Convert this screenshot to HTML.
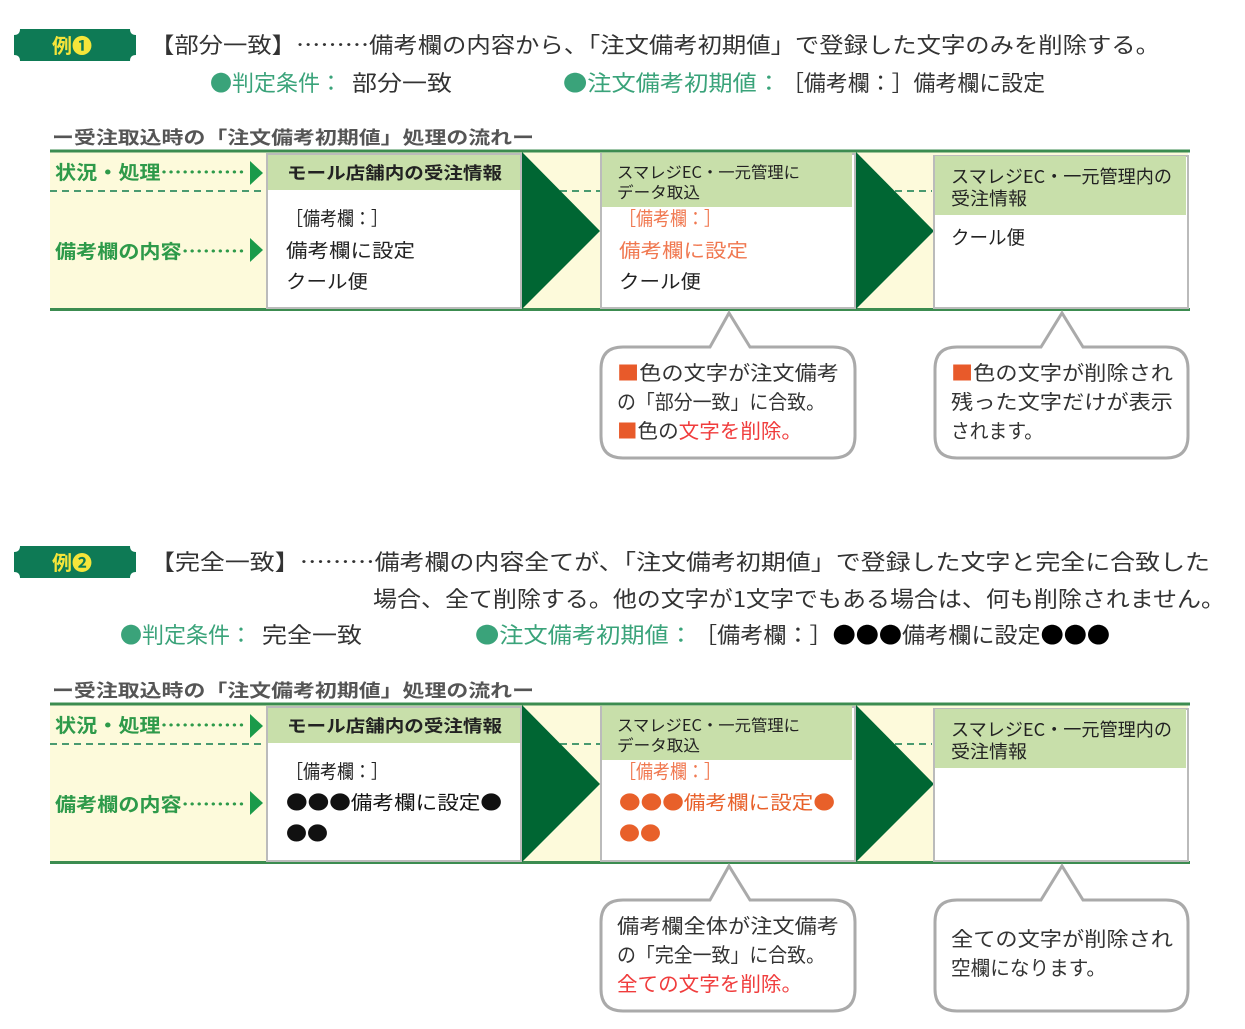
<!DOCTYPE html>
<html><head><meta charset="utf-8"><style>
html,body{margin:0;padding:0;background:#fff;width:1245px;height:1029px;overflow:hidden}
svg{display:block;font-family:"Noto Sans CJK JP","Liberation Sans",sans-serif}
</style></head><body>
<svg width="1245" height="1029" viewBox="0 0 1245 1029" xmlns="http://www.w3.org/2000/svg">
<defs>
<g id="frame">
  <rect x="50" y="152" width="1138" height="157" fill="#fdfadb"/>
  <line x1="50" y1="151" x2="1190" y2="151" stroke="#3c8c50" stroke-width="3"/>
  <line x1="50" y1="309.5" x2="1190" y2="309.5" stroke="#3c8c50" stroke-width="3"/>
  <line x1="50" y1="191" x2="265" y2="191" stroke="#4a9a70" stroke-width="2" stroke-dasharray="7,5"/>
  <line x1="560" y1="191" x2="600" y2="191" stroke="#4a9a70" stroke-width="2" stroke-dasharray="7,5"/>
  <line x1="895" y1="191" x2="932" y2="191" stroke="#4a9a70" stroke-width="2" stroke-dasharray="7,5"/>
  <text x="55" y="179" font-size="19" font-weight="bold" fill="#2e9a4a" textLength="190" lengthAdjust="spacingAndGlyphs">状況・処理…………</text>
  <polygon points="250,161 263,173 250,185" fill="#1a9a4a"/>
  <text x="55" y="258" font-size="19" font-weight="bold" fill="#2e9a4a" textLength="190" lengthAdjust="spacingAndGlyphs">備考欄の内容………</text>
  <polygon points="250,238 263,250 250,262" fill="#1a9a4a"/>
  <rect x="267" y="154" width="254" height="154" fill="#fff" stroke="#bbb" stroke-width="2"/>
  <rect x="268" y="155" width="252" height="35" fill="#c8dfaa"/>
  <text x="287" y="179" font-size="17" font-weight="bold" fill="#222" textLength="215" lengthAdjust="spacingAndGlyphs">モール店舗内の受注情報</text>
  <polygon points="522,152 600,231 522,309" fill="#006633"/>
  <rect x="601" y="154" width="254" height="154" fill="#fff" stroke="#bbb" stroke-width="2"/>
  <rect x="602" y="153" width="250" height="54" fill="#c8dfaa"/>
  <text x="617" y="178" font-size="16" fill="#222" textLength="183" lengthAdjust="spacingAndGlyphs">スマレジEC・一元管理に</text>
  <text x="617" y="198" font-size="16" fill="#222" textLength="83" lengthAdjust="spacingAndGlyphs">データ取込</text>
  <polygon points="856,152 934,231 856,309" fill="#006633"/>
  <rect x="934" y="156" width="254" height="152" fill="#fff" stroke="#bbb" stroke-width="2"/>
  <rect x="935" y="156" width="251" height="59" fill="#c8dfaa"/>
  <text x="951" y="183" font-size="18" fill="#222" textLength="221" lengthAdjust="spacingAndGlyphs">スマレジEC・一元管理内の</text>
  <text x="951" y="205" font-size="18" fill="#222" textLength="76" lengthAdjust="spacingAndGlyphs">受注情報</text>
  <path d="M623,347 H710 L729,313 L750,347 H833 Q855,347 855,369 V436 Q855,458 833,458 H623 Q601,458 601,436 V369 Q601,347 623,347 Z" fill="#fff" stroke="#aaa" stroke-width="3"/>
  <path d="M957,347 H1041 L1062,313 L1083,347 H1166 Q1188,347 1188,369 V436 Q1188,458 1166,458 H957 Q935,458 935,436 V369 Q935,347 957,347 Z" fill="#fff" stroke="#aaa" stroke-width="3"/>
</g>
</defs>

<!-- Example 1 -->
<path d="M20,29 H130 Q130,35 136,35 V55 Q130,55 130,61 H20 Q20,55 14,55 V35 Q20,35 20,29 Z" fill="#0e7a55"/>
<text x="52" y="53" font-size="20" font-weight="bold" fill="#f5e53a">例❶</text>
<text x="150" y="53" font-size="22" fill="#333" textLength="1010" lengthAdjust="spacingAndGlyphs">【部分一致】………備考欄の内容から、「注文備考初期値」で登録した文字のみを削除する。</text>
<text x="210" y="91" font-size="22" fill="#3aa37a" textLength="132" lengthAdjust="spacingAndGlyphs">●判定条件：</text>
<text x="352" y="91" font-size="22" fill="#333" textLength="100" lengthAdjust="spacingAndGlyphs">部分一致</text>
<text x="563" y="91" font-size="22" fill="#3aa37a" textLength="218" lengthAdjust="spacingAndGlyphs">●注文備考初期値：</text>
<text x="782" y="91" font-size="22" fill="#333" textLength="263" lengthAdjust="spacingAndGlyphs">［備考欄：］備考欄に設定</text>
<text x="52" y="144" font-size="18" font-weight="bold" fill="#555" textLength="482" lengthAdjust="spacingAndGlyphs">ー受注取込時の「注文備考初期値」処理の流れー</text>
<use href="#frame"/>
<text x="286" y="225" font-size="19" fill="#222" textLength="102" lengthAdjust="spacingAndGlyphs">［備考欄：］</text>
<text x="286" y="257" font-size="19" fill="#222" textLength="129" lengthAdjust="spacingAndGlyphs">備考欄に設定</text>
<text x="286" y="288" font-size="19" fill="#222" textLength="82" lengthAdjust="spacingAndGlyphs">クール便</text>
<text x="619" y="225" font-size="19" fill="#f07850" textLength="102" lengthAdjust="spacingAndGlyphs">［備考欄：］</text>
<text x="619" y="257" font-size="19" fill="#f07850" textLength="129" lengthAdjust="spacingAndGlyphs">備考欄に設定</text>
<text x="619" y="288" font-size="19" fill="#222" textLength="82" lengthAdjust="spacingAndGlyphs">クール便</text>
<text x="951" y="244" font-size="19" fill="#222" textLength="74" lengthAdjust="spacingAndGlyphs">クール便</text>
<text x="617" y="380" font-size="20" fill="#333" textLength="222" lengthAdjust="spacingAndGlyphs"><tspan fill="#e85a2a">■</tspan>色の文字が注文備考</text>
<text x="617" y="409" font-size="20" fill="#333" textLength="208" lengthAdjust="spacingAndGlyphs">の「部分一致」に合致。</text>
<text x="617" y="438" font-size="20" fill="#333" textLength="185" lengthAdjust="spacingAndGlyphs"><tspan fill="#e85a2a">■</tspan>色の<tspan fill="#f03c3c">文字を削除。</tspan></text>
<text x="951" y="380" font-size="20" fill="#333" textLength="222" lengthAdjust="spacingAndGlyphs"><tspan fill="#e85a2a">■</tspan>色の文字が削除され</text>
<text x="951" y="409" font-size="20" fill="#333" textLength="222" lengthAdjust="spacingAndGlyphs">残った文字だけが表示</text>
<text x="951" y="438" font-size="20" fill="#333" textLength="92" lengthAdjust="spacingAndGlyphs">されます。</text>

<!-- Example 2 -->
<path d="M20,546 H130 Q130,552 136,552 V572 Q130,572 130,578 H20 Q20,572 14,572 V552 Q20,552 20,546 Z" fill="#0e7a55"/>
<text x="52" y="570" font-size="20" font-weight="bold" fill="#f5e53a">例❷</text>
<text x="150" y="570" font-size="22" fill="#333" textLength="1060" lengthAdjust="spacingAndGlyphs">【完全一致】………備考欄の内容全てが、「注文備考初期値」で登録した文字と完全に合致した</text>
<text x="373" y="607" font-size="22" fill="#333" textLength="852" lengthAdjust="spacingAndGlyphs">場合、全て削除する。他の文字が1文字でもある場合は、何も削除されません。</text>
<text x="120" y="643" font-size="22" fill="#3aa37a" textLength="132" lengthAdjust="spacingAndGlyphs">●判定条件：</text>
<text x="262" y="643" font-size="22" fill="#333" textLength="100" lengthAdjust="spacingAndGlyphs">完全一致</text>
<text x="475" y="643" font-size="22" fill="#3aa37a" textLength="218" lengthAdjust="spacingAndGlyphs">●注文備考初期値：</text>
<text x="694" y="643" font-size="22" fill="#333" textLength="416" lengthAdjust="spacingAndGlyphs">［備考欄：］<tspan fill="#000">●●●</tspan>備考欄に設定<tspan fill="#000">●●●</tspan></text>
<text x="52" y="697" font-size="18" font-weight="bold" fill="#555" textLength="482" lengthAdjust="spacingAndGlyphs">ー受注取込時の「注文備考初期値」処理の流れー</text>
<g transform="translate(0,553)"><use href="#frame"/></g>
<text x="286" y="778" font-size="19" fill="#222" textLength="102" lengthAdjust="spacingAndGlyphs">［備考欄：］</text>
<text x="286" y="809" font-size="19" fill="#111" textLength="216" lengthAdjust="spacingAndGlyphs">●●●備考欄に設定●</text>
<text x="286" y="840" font-size="19" fill="#111" textLength="42" lengthAdjust="spacingAndGlyphs">●●</text>
<text x="619" y="778" font-size="19" fill="#f07850" textLength="102" lengthAdjust="spacingAndGlyphs">［備考欄：］</text>
<text x="619" y="809" font-size="19" fill="#e8602a" textLength="216" lengthAdjust="spacingAndGlyphs">●●●備考欄に設定●</text>
<text x="619" y="840" font-size="19" fill="#e8602a" textLength="42" lengthAdjust="spacingAndGlyphs">●●</text>
<text x="617" y="933" font-size="20" fill="#333" textLength="222" lengthAdjust="spacingAndGlyphs">備考欄全体が注文備考</text>
<text x="617" y="962" font-size="20" fill="#333" textLength="208" lengthAdjust="spacingAndGlyphs">の「完全一致」に合致。</text>
<text x="617" y="991" font-size="20" fill="#f03c3c" textLength="185" lengthAdjust="spacingAndGlyphs">全ての文字を削除。</text>
<text x="951" y="946" font-size="20" fill="#333" textLength="222" lengthAdjust="spacingAndGlyphs">全ての文字が削除され</text>
<text x="951" y="975" font-size="20" fill="#333" textLength="155" lengthAdjust="spacingAndGlyphs">空欄になります。</text>
</svg>
</body></html>
